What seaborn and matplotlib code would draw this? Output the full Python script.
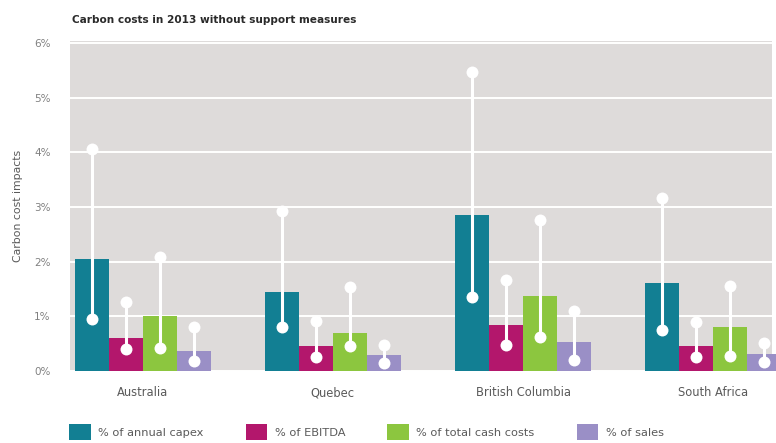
import matplotlib
matplotlib.use("Agg")
import matplotlib.pyplot as plt
from matplotlib.patches import Patch
import seaborn as sns
import pandas as pd

# Jurisdictions and cost measures
regions = ["Australia", "Quebec", "British Columbia", "South Africa"]
measures = ["% of annual capex", "% of EBITDA", "% of total cash costs", "% of sales"]

# Central estimate (bar height), in percent, one list per measure
capex_mid = [2.05, 1.44, 2.85, 1.61]
ebitda_mid = [0.61, 0.45, 0.84, 0.45]
cash_mid = [1.01, 0.70, 1.38, 0.80]
sales_mid = [0.37, 0.29, 0.53, 0.31]

# Low and high ends of the range
capex_low = [0.95, 0.81, 1.36, 0.75]
capex_high = [4.07, 2.92, 5.47, 3.17]
ebitda_low = [0.40, 0.26, 0.48, 0.26]
ebitda_high = [1.27, 0.92, 1.67, 0.89]
cash_low = [0.43, 0.46, 0.63, 0.27]
cash_high = [2.08, 1.54, 2.76, 1.56]
sales_low = [0.18, 0.14, 0.21, 0.17]
sales_high = [0.80, 0.48, 1.09, 0.52]

y_ticks = [0, 1, 2, 3, 4, 5, 6]
y_tick_labels = ["0%", "1%", "2%", "3%", "4%", "5%", "6%"]

mids = [capex_mid, ebitda_mid, cash_mid, sales_mid]
lows = [capex_low, ebitda_low, cash_low, sales_low]
highs = [capex_high, ebitda_high, cash_high, sales_high]

rows = []
for m, mid, lo, hi in zip(measures, mids, lows, highs):
    for r, v, a, b in zip(regions, mid, lo, hi):
        rows.append({"region": r, "measure": m, "value": v, "low": a, "high": b})
df = pd.DataFrame(rows)

palette = ["#127f93", "#b3176c", "#8cc63f", "#9a8fc6"]
bg = "#dedbda"
font = ["DejaVu Sans"]

sns.set_theme(style="white")
plt.rcParams["font.family"] = font

fig = plt.figure(figsize=(7.76, 4.43), dpi=100)
ax = fig.add_axes([70 / 776, 72 / 443, 702 / 776, 330 / 443])
ax.set_facecolor(bg)

sns.barplot(data=df, x="region", y="value", hue="measure", order=regions,
            hue_order=measures, palette=palette, width=0.715, saturation=1,
            errorbar=None, legend=False, linewidth=0, edgecolor="none",
            ax=ax, zorder=2)

# Range whiskers drawn at each bar's centre
for container, m in zip(ax.containers, measures):
    sub = df[df["measure"] == m].set_index("region").loc[regions]
    for bar, (_, row) in zip(container, sub.iterrows()):
        bar.set_clip_on(False)
        bar.set_linewidth(0)
        xc = bar.get_x() + bar.get_width() / 2
        ax.plot([xc, xc], [row["low"], row["high"]], color="white", lw=2.2,
                solid_capstyle="butt", zorder=3, clip_on=False)
        ax.plot([xc, xc], [row["low"], row["high"]], "o", color="white",
                markersize=8.6, markeredgewidth=0, zorder=4, clip_on=False)

ax.set_ylim(0, 6.04)
ax.set_xlim(-0.382, 3.309)
ax.set_yticks(y_ticks)
ax.set_yticklabels(y_tick_labels)
ax.yaxis.grid(True, color="white", lw=1.4)
ax.set_axisbelow(True)
for s in ax.spines.values():
    s.set_visible(False)
ax.tick_params(axis="y", length=0, pad=14, labelsize=7.5, labelcolor="#808080")
ax.tick_params(axis="x", length=0, pad=11, labelsize=8.3, labelcolor="#5a5a5a")
ax.set_xlabel("")
ax.set_ylabel("Carbon cost impacts", fontsize=7.8, color="#5a5a5a", labelpad=8)

fig.text(72 / 776, 1 - 20 / 443, "Carbon costs in 2013 without support measures",
         fontsize=7.6, fontweight="bold", color="#2a2a2a", va="center", ha="left")

handles = [Patch(facecolor=c, edgecolor="none") for c in palette]
fig.legend(handles, measures, loc="center left", bbox_to_anchor=(69 / 776, 1 - 432 / 443),
           ncol=4, frameon=False, fontsize=8.2, handlelength=1.9, handleheight=1.7,
           handletextpad=0.65, columnspacing=3.7, borderpad=0, borderaxespad=0,
           labelcolor="#5a5a5a")

fig.savefig("out.png", dpi=100)
